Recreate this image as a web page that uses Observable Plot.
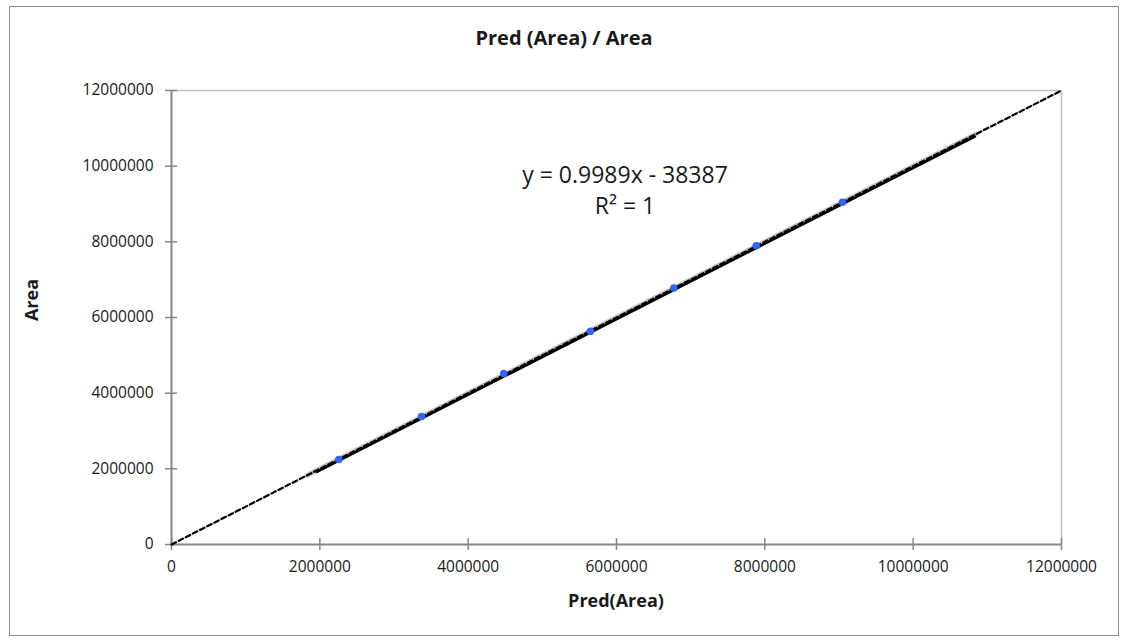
<!DOCTYPE html>
<html>
<head>
<meta charset="utf-8">
<script src="https://cdn.jsdelivr.net/npm/d3@7"></script>
<script src="https://cdn.jsdelivr.net/npm/@observablehq/plot@0.6"></script>
<style>
  body { margin: 0; background: #fff; }
  #wrap { position: relative; width: 1127px; height: 643px; font-family: "Open Sans", sans-serif; color: #1a1a1a; overflow: hidden; }
  #frame { position: absolute; left: 9px; top: 6px; width: 1110px; height: 630px; border: 1px solid #8c8c8c; box-sizing: border-box; }
  #chart { position: absolute; left: 0; top: 0; }
  .title { position: absolute; left: 9px; width: 1110px; top: 25px; text-align: center; font-size: 20px; font-weight: 700; line-height: 26px; }
  .xlabel { position: absolute; left: 171px; width: 890px; top: 587px; text-align: center; font-size: 18px; font-weight: 700; line-height: 26px; }
  .ylabel { position: absolute; left: 31px; top: 300px; transform: translate(-50%, -50%) rotate(-90deg); font-size: 18px; font-weight: 700; line-height: 26px; white-space: nowrap; }
  .eq { position: absolute; left: 475px; width: 300px; top: 159px; text-align: center; font-size: 23px; line-height: 31px; white-space: nowrap; }
</style>
</head>
<body>
<div id="wrap">
  <div id="frame"></div>
  <div id="chart"></div>
  <div class="title" id="title"></div>
  <div class="xlabel" id="xlabel"></div>
  <div class="ylabel" id="ylabel"></div>
  <div class="eq" id="eq"></div>
</div>
<script>
// ---- data ----
const chartTitle = "Pred (Area) / Area";
const xLabel = "Pred(Area)";
const yLabel = "Area";
const equationLines = ["y = 0.9989x - 38387", "R² = 1"];

const predArea = [2256000, 3371000, 4480000, 5649000, 6773000, 7884000, 9047000];
const area     = [2245000, 3385000, 4520000, 5636000, 6780000, 7898000, 9045000];

// y = x reference (dashed)
const diagX = [0, 12000000];
const diagY = [0, 12000000];
// grey series line
const greyX = [1830000, 10850000];
const greyY = [1830000, 10850000];
// linear trend line
const trendX = [1960000, 10830000];
const trendY = [1919457, 10779700];

const xTicks = [0, 2000000, 4000000, 6000000, 8000000, 10000000, 12000000];
const yTicks = [0, 2000000, 4000000, 6000000, 8000000, 10000000, 12000000];

// ---- build tables ----
const points = predArea.map((x, i) => ({x, y: area[i]}));
const diag = diagX.map((x, i) => ({x, y: diagY[i]}));
const grey = greyX.map((x, i) => ({x, y: greyY[i]}));
const trend = trendX.map((x, i) => ({x, y: trendY[i]}));
const fmt = d => String(d);
const axisGrey = "#868686";

const chart = Plot.plot({
  width: 1127,
  height: 643,
  marginLeft: 171,
  marginRight: 66,
  marginTop: 90,
  marginBottom: 99,
  x: {domain: [0, 12000000]},
  y: {domain: [0, 12000000]},
  style: {fontFamily: "'Open Sans', sans-serif", fontSize: "15.5px", color: "#1a1a1a", background: "transparent", overflow: "visible"},
  marks: [
    Plot.ruleY([yTicks[yTicks.length - 1]], {stroke: "#c0c0c0", strokeWidth: 1.5}),
    Plot.ruleX([xTicks[xTicks.length - 1]], {stroke: "#c0c0c0", strokeWidth: 1.5}),
    Plot.ruleY([0], {stroke: axisGrey, strokeWidth: 2}),
    Plot.ruleX([0], {stroke: axisGrey, strokeWidth: 2}),
    Plot.axisX({ticks: xTicks, tickSize: 6, tickPadding: 10, tickFormat: fmt, stroke: axisGrey, strokeWidth: 1.5, fill: "#1a1a1a", label: null}),
    Plot.axisX({ticks: xTicks, tickSize: -6, tickFormat: () => "", stroke: axisGrey, strokeWidth: 1.5, label: null}),
    Plot.axisY({ticks: yTicks, tickSize: 6, tickPadding: 12, tickFormat: fmt, stroke: axisGrey, strokeWidth: 1.5, fill: "#1a1a1a", label: null}),
    Plot.axisY({ticks: yTicks, tickSize: -6, tickFormat: () => "", stroke: axisGrey, strokeWidth: 1.5, label: null}),
    Plot.line(grey, {x: "x", y: "y", stroke: "#c4c4c4", strokeWidth: 5}),
    Plot.line(trend, {x: "x", y: "y", stroke: "#000", strokeWidth: 2.5}),
    Plot.line(diag, {x: "x", y: "y", stroke: "#000", strokeWidth: 2.2, strokeDasharray: "5,3"}),
    Plot.dot(points, {x: "x", y: "y", r: 3.8, fill: "#2f66f5", stroke: "none"})
  ]
});
document.getElementById("chart").appendChild(chart);
document.getElementById("title").textContent = chartTitle;
document.getElementById("xlabel").textContent = xLabel;
document.getElementById("ylabel").textContent = yLabel;
document.getElementById("eq").innerHTML = equationLines.map(s => `<div>${s}</div>`).join("");
</script>
</body>
</html>
